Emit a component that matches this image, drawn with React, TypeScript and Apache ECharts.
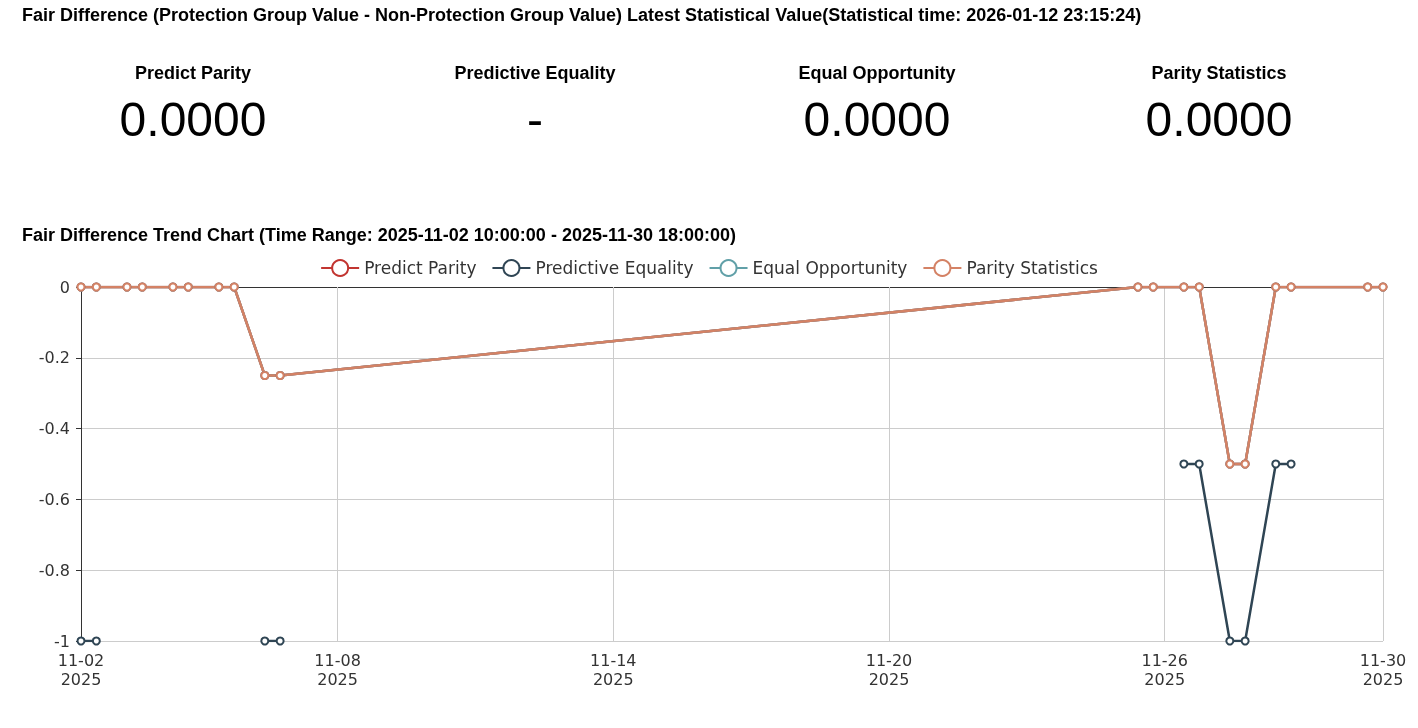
import React, { useEffect, useRef } from "react";
import * as echarts from "echarts";

const pageTitle =
  "Fair Difference (Protection Group Value - Non-Protection Group Value) Latest Statistical Value(Statistical time: 2026-01-12 23:15:24)";
const trendTitle =
  "Fair Difference Trend Chart (Time Range: 2025-11-02 10:00:00 - 2025-11-30 18:00:00)";

const metricNames = ["Predict Parity", "Predictive Equality", "Equal Opportunity", "Parity Statistics"];
const latestValues = ["0.0000", "-", "0.0000", "0.0000"];

const times = [
  "2025-11-02 10:00:00", "2025-11-02 18:00:00",
  "2025-11-03 10:00:00", "2025-11-03 18:00:00",
  "2025-11-04 10:00:00", "2025-11-04 18:00:00",
  "2025-11-05 10:00:00", "2025-11-05 18:00:00",
  "2025-11-06 10:00:00", "2025-11-06 18:00:00",
  "2025-11-25 10:00:00", "2025-11-25 18:00:00",
  "2025-11-26 10:00:00", "2025-11-26 18:00:00",
  "2025-11-27 10:00:00", "2025-11-27 18:00:00",
  "2025-11-28 10:00:00", "2025-11-28 18:00:00",
  "2025-11-30 10:00:00", "2025-11-30 18:00:00",
];

const predictParity = [0, 0, 0, 0, 0, 0, 0, 0, -0.25, -0.25, 0, 0, 0, 0, -0.5, -0.5, 0, 0, 0, 0];
const predictiveEquality = [-1, -1, null, null, null, null, null, null, -1, -1, null, null, -0.5, -0.5, -1, -1, -0.5, -0.5, null, null];
const equalOpportunity = [0, 0, 0, 0, 0, 0, 0, 0, -0.25, -0.25, 0, 0, 0, 0, -0.5, -0.5, 0, 0, 0, 0];
const parityStatistics = [0, 0, 0, 0, 0, 0, 0, 0, -0.25, -0.25, 0, 0, 0, 0, -0.5, -0.5, 0, 0, 0, 0];

const rangeStart = "2025-11-02 10:00:00";
const rangeEnd = "2025-11-30 18:00:00";
const xTickTimes = [
  "2025-11-02 10:00:00", "2025-11-08 00:00:00", "2025-11-14 00:00:00",
  "2025-11-20 00:00:00", "2025-11-26 00:00:00", "2025-11-30 18:00:00",
];
const ySplit = { min: -1, max: 0, interval: 0.2 };

const colors = ["#c23531", "#2f4554", "#61a0a8", "#d48265"];

function parseTime(s: string): number {
  const [d, t] = s.split(" ");
  const [y, m, day] = d.split("-").map(Number);
  const [hh, mm, ss] = t.split(":").map(Number);
  return new Date(y, m - 1, day, hh, mm, ss).getTime();
}

function pad(n: number) {
  return n < 10 ? "0" + n : "" + n;
}

export default function App() {
  const ref = useRef<HTMLDivElement>(null);
  useEffect(() => {
    if (!ref.current) return;
    const chart = echarts.init(ref.current, undefined, { renderer: "svg" });
    const seriesValues = [predictParity, predictiveEquality, equalOpportunity, parityStatistics];
    const ts = times.map(parseTime);
    const tickVals = xTickTimes.map(parseTime);
    const colCenters = [193, 535, 877, 1219];
    const boldFont = "bold 18px 'Liberation Sans', Arial, sans-serif";

    const graphics: any[] = [
      {
        type: "text",
        left: 22,
        top: 6,
        style: { text: pageTitle, font: boldFont, fill: "#000" },
      },
      {
        type: "text",
        left: 22,
        top: 226,
        style: { text: trendTitle, font: boldFont, fill: "#000" },
      },
    ];
    metricNames.forEach((name, i) => {
      graphics.push({
        type: "text",
        x: colCenters[i],
        y: 73,
        style: {
          text: name,
          font: boldFont,
          fill: "#000",
          align: "center",
          verticalAlign: "middle",
        },
      });
      graphics.push({
        type: "text",
        x: colCenters[i],
        y: 119,
        style: {
          text: latestValues[i],
          font: "48px 'Liberation Sans', Arial, sans-serif",
          fill: "#000",
          align: "center",
          verticalAlign: "middle",
        },
      });
    });

    const axisFont = "'DejaVu Sans', sans-serif";
    const fmt = (v: number) => {
      const d = new Date(v);
      return pad(d.getMonth() + 1) + "-" + pad(d.getDate()) + "\n" + d.getFullYear();
    };

    chart.setOption({
      animation: false,
      color: colors,
      graphic: graphics,
      legend: {
        top: 254,
        left: "center",
        itemWidth: 38,
        itemHeight: 20,
        itemGap: 15,
        textStyle: { fontSize: 17, color: "#333", fontFamily: axisFont },
        data: metricNames,
      },
      grid: { left: 81, right: 35, top: 287, bottom: 87, containLabel: false },
      xAxis: [
        {
          type: "value",
          min: parseTime(rangeStart),
          max: parseTime(rangeEnd),
          position: "bottom",
          axisLine: { show: false, onZero: false },
          axisTick: { show: false },
          axisLabel: {
            customValues: tickVals,
            color: "#333",
            fontSize: 16,
            fontFamily: axisFont,
            lineHeight: 19,
            margin: 10,
            formatter: fmt,
          },
          splitLine: { show: false },
        },
        {
          type: "value",
          min: parseTime(rangeStart),
          max: parseTime(rangeEnd),
          position: "bottom",
          axisLine: { show: true, onZero: true, lineStyle: { color: "#333" } },
          axisTick: { show: true, customValues: tickVals, length: 5, lineStyle: { color: "#333" } },
          axisLabel: { show: false, customValues: tickVals },
          splitLine: { show: false },
        },
      ],
      yAxis: {
        type: "value",
        min: ySplit.min,
        max: ySplit.max,
        interval: ySplit.interval,
        axisLine: { show: true, lineStyle: { color: "#333" } },
        axisTick: { show: true, length: 5, lineStyle: { color: "#333" } },
        axisLabel: { color: "#333", fontSize: 16, fontFamily: axisFont, margin: 11 },
        splitLine: { show: true, lineStyle: { color: "#ccc" } },
      },
      series: [
        {
          name: "xSplitLines",
          type: "line",
          xAxisIndex: 0,
          data: [],
          silent: true,
          z: 1,
          color: "#ccc",
          markLine: {
            silent: true,
            symbol: "none",
            z: 1,
            label: { show: false },
            lineStyle: { color: "#ccc", type: "solid", width: 1 },
            emphasis: { disabled: true },
            data: tickVals.slice(1).map((v) => ({ xAxis: v })),
          },
        },
        ...metricNames.map((name, i) => ({
          name,
          type: "line",
          xAxisIndex: 0,
          color: colors[i],
          symbol: "emptyCircle",
          symbolSize: 7,
          connectNulls: false,
          itemStyle: { color: colors[i], borderColor: colors[i] },
          lineStyle: { width: 2.5, color: colors[i] },
          data: ts.map((t, j) => [t, seriesValues[i][j]]),
        })),
      ],
    });
    return () => chart.dispose();
  }, []);
  return <div ref={ref} style={{ position: "fixed", left: 0, top: 0, width: 1418, height: 728 }} />;
}
